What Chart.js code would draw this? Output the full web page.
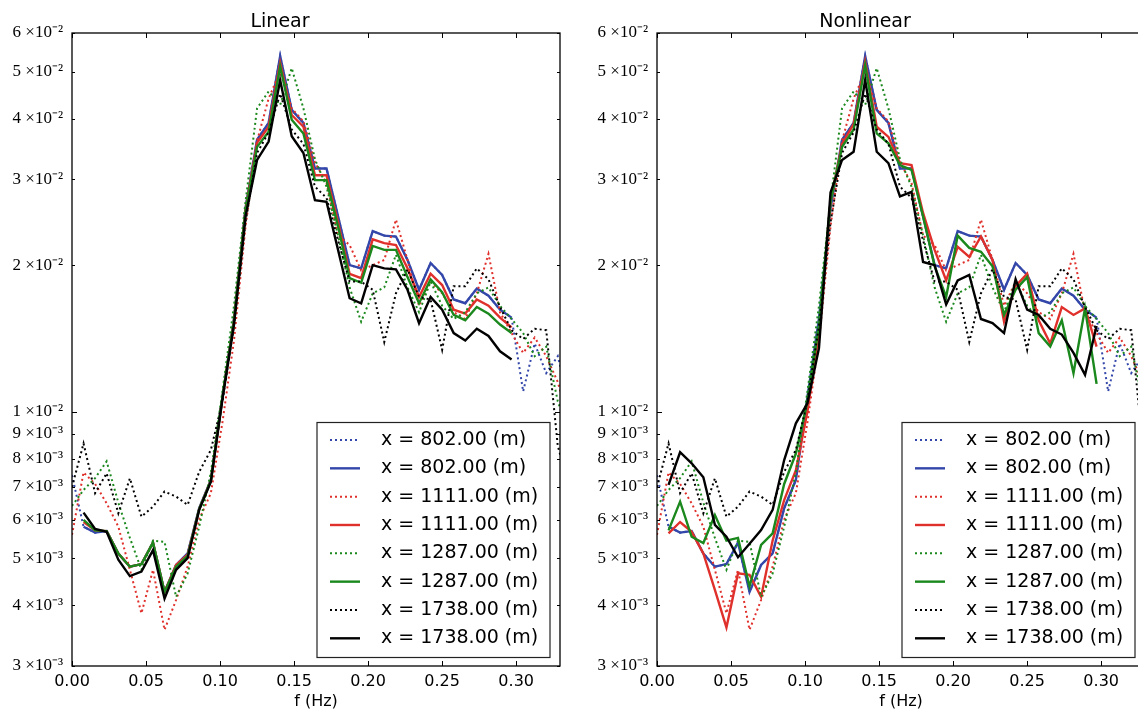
<!DOCTYPE html>
<html><head><meta charset="utf-8">
<script src="https://cdn.jsdelivr.net/npm/chart.js@4.4.0/dist/chart.umd.min.js"></script>
<style>
html,body{margin:0;padding:0;background:#fff;overflow:hidden;width:1138px;height:711px;position:relative;}
.wrap{position:absolute;top:0;width:580px;height:711px;}
#w1{left:0}
#w2{left:585px}
</style></head><body>
<div class="wrap" id="w1"><canvas id="c1" width="580" height="711"></canvas></div>
<div class="wrap" id="w2"><canvas id="c2" width="580" height="711"></canvas></div>
<script>
// frequency grids (Hz)
const freqMeas = [0, 0.0078, 0.0156, 0.0234, 0.0313, 0.0391, 0.0469, 0.0547, 0.0625, 0.0703, 0.0781, 0.0859, 0.0938, 0.1016, 0.1094, 0.1172, 0.1250, 0.1328, 0.1406, 0.1484, 0.1563, 0.1641, 0.1719, 0.1797, 0.1875, 0.1953, 0.2031, 0.2109, 0.2188, 0.2266, 0.2344, 0.2422, 0.2500, 0.2578, 0.2656, 0.2734, 0.2813, 0.2891, 0.2969, 0.3047, 0.3125, 0.3203, 0.3281, 0.3359];
const freqModel = [0.0078, 0.0156, 0.0234, 0.0313, 0.0391, 0.0469, 0.0547, 0.0625, 0.0703, 0.0781, 0.0859, 0.0938, 0.1016, 0.1094, 0.1172, 0.1250, 0.1328, 0.1406, 0.1484, 0.1563, 0.1641, 0.1719, 0.1797, 0.1875, 0.1953, 0.2031, 0.2109, 0.2188, 0.2266, 0.2344, 0.2422, 0.2500, 0.2578, 0.2656, 0.2734, 0.2813, 0.2891, 0.2969];

// measured spectra (dotted), same in both panels
const meas802 = [7.4e-3, 5.8e-3, 5.64e-3, 5.68e-3, 5.11e-3, 4.8e-3, 4.86e-3, 5.38e-3, 4.26e-3, 4.84e-3, 5.11e-3, 6.33e-3, 7.24e-3, 1.07e-2, 1.55e-2, 2.62e-2, 3.62e-2, 3.92e-2, 5.38e-2, 4.17e-2, 3.92e-2, 3.16e-2, 3.16e-2, 2.52e-2, 2.0e-2, 1.97e-2, 2.35e-2, 2.3e-2, 2.29e-2, 2.05e-2, 1.78e-2, 2.02e-2, 1.91e-2, 1.7e-2, 1.67e-2, 1.79e-2, 1.73e-2, 1.62e-2, 1.56e-2, 1.1e-2, 1.38e-2, 1.2e-2, 1.3e-2, 1.05e-2];
const meas1111 = [5.58e-3, 7.5e-3, 7.1e-3, 6.48e-3, 5.8e-3, 4.73e-3, 3.85e-3, 4.73e-3, 3.56e-3, 4.1e-3, 4.8e-3, 6.0e-3, 6.8e-3, 9.5e-3, 1.4e-2, 2.4e-2, 3.6e-2, 4.4e-2, 5.0e-2, 4.2e-2, 3.95e-2, 3.25e-2, 2.95e-2, 2.3e-2, 2.2e-2, 1.95e-2, 2.0e-2, 2.05e-2, 2.48e-2, 2.05e-2, 1.65e-2, 1.85e-2, 1.75e-2, 1.6e-2, 1.55e-2, 1.75e-2, 2.11e-2, 1.6e-2, 1.45e-2, 1.32e-2, 1.42e-2, 1.3e-2, 1.15e-2, 9.5e-3];
const meas1287 = [6.4e-3, 6.9e-3, 7.3e-3, 7.9e-3, 6.5e-3, 5.5e-3, 4.73e-3, 5.43e-3, 5.4e-3, 4.16e-3, 4.65e-3, 5.8e-3, 7.5e-3, 1.1e-2, 1.65e-2, 2.7e-2, 4.2e-2, 4.55e-2, 4.27e-2, 5.08e-2, 4.2e-2, 3.3e-2, 2.9e-2, 2.3e-2, 1.8e-2, 1.53e-2, 1.75e-2, 1.8e-2, 2.1e-2, 1.8e-2, 1.6e-2, 1.85e-2, 1.65e-2, 1.55e-2, 1.6e-2, 1.75e-2, 1.8e-2, 1.65e-2, 1.55e-2, 1.45e-2, 1.3e-2, 1.36e-2, 1.05e-2, 9.0e-3];
const meas1738 = [7.0e-3, 8.6e-3, 6.8e-3, 7.47e-3, 6.18e-3, 7.29e-3, 6.08e-3, 6.38e-3, 6.85e-3, 6.69e-3, 6.43e-3, 7.52e-3, 8.34e-3, 1.05e-2, 1.5e-2, 2.45e-2, 3.4e-2, 3.75e-2, 4.5e-2, 3.8e-2, 3.55e-2, 2.9e-2, 2.75e-2, 2.25e-2, 1.85e-2, 1.85e-2, 1.78e-2, 1.39e-2, 1.75e-2, 1.96e-2, 1.72e-2, 1.7e-2, 1.34e-2, 1.81e-2, 1.81e-2, 1.97e-2, 1.87e-2, 1.64e-2, 1.47e-2, 1.41e-2, 1.48e-2, 1.47e-2, 8.5e-3, 7.0e-3];

// linear model (solid)
const lin802 = [5.8e-3, 5.64e-3, 5.68e-3, 5.11e-3, 4.8e-3, 4.86e-3, 5.38e-3, 4.26e-3, 4.84e-3, 5.11e-3, 6.33e-3, 7.24e-3, 1.07e-2, 1.55e-2, 2.62e-2, 3.62e-2, 3.92e-2, 5.38e-2, 4.17e-2, 3.92e-2, 3.16e-2, 3.16e-2, 2.52e-2, 2.0e-2, 1.97e-2, 2.35e-2, 2.3e-2, 2.29e-2, 2.05e-2, 1.78e-2, 2.02e-2, 1.91e-2, 1.7e-2, 1.67e-2, 1.79e-2, 1.73e-2, 1.62e-2, 1.56e-2];
const lin1111 = [5.93e-3, 5.7e-3, 5.68e-3, 5.11e-3, 4.8e-3, 4.86e-3, 5.38e-3, 4.26e-3, 4.84e-3, 5.08e-3, 6.3e-3, 7.22e-3, 1.07e-2, 1.54e-2, 2.6e-2, 3.57e-2, 3.85e-2, 5.21e-2, 4.07e-2, 3.85e-2, 3.06e-2, 3.06e-2, 2.45e-2, 1.92e-2, 1.88e-2, 2.26e-2, 2.22e-2, 2.2e-2, 1.97e-2, 1.72e-2, 1.92e-2, 1.82e-2, 1.62e-2, 1.59e-2, 1.7e-2, 1.65e-2, 1.56e-2, 1.49e-2];
const lin1287 = [5.99e-3, 5.7e-3, 5.68e-3, 5.11e-3, 4.8e-3, 4.86e-3, 5.38e-3, 4.26e-3, 4.8e-3, 5.05e-3, 6.3e-3, 7.2e-3, 1.07e-2, 1.53e-2, 2.58e-2, 3.5e-2, 3.76e-2, 5.12e-2, 3.98e-2, 3.73e-2, 2.99e-2, 2.99e-2, 2.4e-2, 1.88e-2, 1.84e-2, 2.19e-2, 2.15e-2, 2.15e-2, 1.89e-2, 1.67e-2, 1.87e-2, 1.76e-2, 1.58e-2, 1.54e-2, 1.64e-2, 1.59e-2, 1.51e-2, 1.45e-2];
const lin1738 = [6.2e-3, 5.74e-3, 5.66e-3, 4.96e-3, 4.59e-3, 4.69e-3, 5.19e-3, 4.13e-3, 4.73e-3, 5.0e-3, 6.28e-3, 7.18e-3, 1.06e-2, 1.51e-2, 2.52e-2, 3.29e-2, 3.59e-2, 4.8e-2, 3.68e-2, 3.4e-2, 2.72e-2, 2.7e-2, 2.15e-2, 1.71e-2, 1.67e-2, 2.0e-2, 1.97e-2, 1.96e-2, 1.78e-2, 1.52e-2, 1.72e-2, 1.62e-2, 1.45e-2, 1.4e-2, 1.48e-2, 1.43e-2, 1.33e-2, 1.28e-2];

// nonlinear model (solid)
const nl802 = [5.8e-3, 5.64e-3, 5.68e-3, 5.11e-3, 4.8e-3, 4.86e-3, 5.38e-3, 4.26e-3, 4.84e-3, 5.11e-3, 6.33e-3, 7.24e-3, 1.07e-2, 1.55e-2, 2.62e-2, 3.62e-2, 3.92e-2, 5.38e-2, 4.17e-2, 3.92e-2, 3.16e-2, 3.16e-2, 2.52e-2, 2.0e-2, 1.97e-2, 2.35e-2, 2.3e-2, 2.29e-2, 2.05e-2, 1.78e-2, 2.02e-2, 1.91e-2, 1.7e-2, 1.67e-2, 1.79e-2, 1.73e-2, 1.62e-2, 1.56e-2];
const nl1111 = [5.62e-3, 5.93e-3, 5.66e-3, 5.11e-3, 4.3e-3, 3.6e-3, 4.65e-3, 4.62e-3, 4.16e-3, 5.43e-3, 6.58e-3, 7.58e-3, 1.0e-2, 1.45e-2, 2.7e-2, 3.55e-2, 3.9e-2, 5.24e-2, 3.85e-2, 3.67e-2, 3.24e-2, 3.21e-2, 2.56e-2, 2.15e-2, 1.86e-2, 2.18e-2, 2.08e-2, 2.29e-2, 2.05e-2, 1.53e-2, 1.81e-2, 1.92e-2, 1.54e-2, 1.38e-2, 1.64e-2, 1.58e-2, 1.63e-2, 1.36e-2];
const nl1287 = [5.7e-3, 6.53e-3, 5.53e-3, 5.37e-3, 6.13e-3, 5.43e-3, 5.5e-3, 4.37e-3, 5.32e-3, 5.62e-3, 7.1e-3, 8.2e-3, 1.05e-2, 1.5e-2, 2.7e-2, 3.5e-2, 3.8e-2, 5.15e-2, 3.73e-2, 3.56e-2, 3.21e-2, 3.14e-2, 2.52e-2, 1.99e-2, 1.72e-2, 2.3e-2, 2.17e-2, 2.13e-2, 1.99e-2, 1.58e-2, 1.78e-2, 1.89e-2, 1.45e-2, 1.36e-2, 1.54e-2, 1.2e-2, 1.63e-2, 1.14e-2];
const nl1738 = [7.07e-3, 8.25e-3, 7.83e-3, 7.33e-3, 5.85e-3, 5.53e-3, 5.02e-3, 5.35e-3, 5.71e-3, 6.28e-3, 7.95e-3, 9.46e-3, 1.04e-2, 1.35e-2, 2.82e-2, 3.29e-2, 3.42e-2, 4.8e-2, 3.42e-2, 3.24e-2, 2.77e-2, 2.83e-2, 2.03e-2, 2.0e-2, 1.66e-2, 1.86e-2, 1.91e-2, 1.55e-2, 1.52e-2, 1.45e-2, 1.87e-2, 1.62e-2, 1.58e-2, 1.48e-2, 1.44e-2, 1.32e-2, 1.19e-2, 1.5e-2];

const legendLabels = ['x = 802.00 (m)', 'x = 802.00 (m)', 'x = 1111.00 (m)', 'x = 1111.00 (m)', 'x = 1287.00 (m)', 'x = 1287.00 (m)', 'x = 1738.00 (m)', 'x = 1738.00 (m)'];
const xTicks = [0, 0.05, 0.10, 0.15, 0.20, 0.25, 0.30];
const xTickLabels = ['0.00', '0.05', '0.10', '0.15', '0.20', '0.25', '0.30'];
const yTicks = [0.003, 0.004, 0.005, 0.006, 0.007, 0.008, 0.009, 0.01, 0.02, 0.03, 0.04, 0.05, 0.06];
const yTickLabels = ['3 ×10⁻³', '4 ×10⁻³', '5 ×10⁻³', '6 ×10⁻³', '7 ×10⁻³', '8 ×10⁻³', '9 ×10⁻³', '1 ×10⁻²', '2 ×10⁻²', '3 ×10⁻²', '4 ×10⁻²', '5 ×10⁻²', '6 ×10⁻²'];

const COL = {blue: '#3346a9', red: '#e0302b', green: '#1a881c', black: '#000000'};
const SOLID_W = 2.4, DOT_W = 2;
const DOT = [2, 3];

function pts(fx, vals) { return vals.map((v, i) => ({x: fx[i], y: v})); }
function dsDotted(vals, col) {
  return {data: pts(freqMeas, vals), borderColor: col, borderWidth: DOT_W, borderDash: DOT, pointRadius: 0, fill: false, tension: 0, clip: 0};
}
function dsSolid(vals, col) {
  return {data: pts(freqModel, vals), borderColor: col, borderWidth: SOLID_W, pointRadius: 0, fill: false, tension: 0, clip: 0};
}

const decorPlugin = {
  id: 'decor',
  afterDatasetsDraw(chart) {
    const ctx = chart.ctx, a = chart.chartArea;
    const xs = chart.scales.x, ys = chart.scales.y;
    ctx.save();
    ctx.strokeStyle = '#000';
    ctx.lineWidth = 1;
    ctx.beginPath();
    xTicks.forEach(v => {
      const p = Math.round(xs.getPixelForValue(v)) + 0.5;
      ctx.moveTo(p, a.bottom); ctx.lineTo(p, a.bottom - 5);
      ctx.moveTo(p, a.top); ctx.lineTo(p, a.top + 5);
    });
    yTicks.forEach(v => {
      const p = Math.round(ys.getPixelForValue(v)) + 0.5;
      const len = (v === 0.01) ? 5 : 3;
      ctx.moveTo(a.left, p); ctx.lineTo(a.left + len, p);
      ctx.moveTo(a.right, p); ctx.lineTo(a.right - len, p);
    });
    ctx.stroke();
    ctx.lineWidth = 1.3;
    ctx.strokeRect(a.left, a.top, a.right - a.left, a.bottom - a.top);
    ctx.restore();
  },
  afterDraw(chart) {
    const ctx = chart.ctx, a = chart.chartArea;
    const w = 233, h = 235;
    const x0 = a.right - 10 - w, y0 = a.bottom - 8.5 - h;
    ctx.save();
    ctx.fillStyle = '#fff';
    ctx.fillRect(x0, y0, w, h);
    ctx.strokeStyle = '#222';
    ctx.lineWidth = 1.2;
    ctx.strokeRect(x0, y0, w, h);
    ctx.font = '19px "DejaVu Sans"';
    ctx.textBaseline = 'middle';
    ctx.textAlign = 'left';
    chart.data.datasets.forEach((ds, i) => {
      const y = y0 + 17.5 + i * 28.33;
      ctx.beginPath();
      ctx.strokeStyle = ds.borderColor;
      ctx.lineWidth = ds.borderWidth;
      ctx.setLineDash(ds.borderDash || []);
      ctx.moveTo(x0 + 13, y); ctx.lineTo(x0 + 43, y);
      ctx.stroke();
      ctx.setLineDash([]);
      ctx.fillStyle = '#000';
      ctx.fillText(legendLabels[i], x0 + 64, y);
    });
    ctx.restore();
  }
};

function makeChart(id, title, s802, s1111, s1287, s1738) {
  const datasets = [
    dsDotted(meas802, COL.blue), dsSolid(s802, COL.blue),
    dsDotted(meas1111, COL.red), dsSolid(s1111, COL.red),
    dsDotted(meas1287, COL.green), dsSolid(s1287, COL.green),
    dsDotted(meas1738, COL.black), dsSolid(s1738, COL.black)
  ];
  datasets.forEach((d, i) => { d.order = datasets.length - 1 - i; d.label = legendLabels[i]; });
  return new Chart(document.getElementById(id), {
    type: 'line',
    data: {datasets},
    options: {
      responsive: false, animation: false, devicePixelRatio: 1,
      layout: {padding: {left: 0, right: 20, top: 0, bottom: 0}},
      plugins: {
        legend: {display: false},
        tooltip: {enabled: false},
        title: {display: true, text: title, color: '#000', font: {family: 'DejaVu Sans', size: 19, weight: 'normal', lineHeight: 1.1}, padding: {top: 12, bottom: 0.1}}
      },
      scales: {
        x: {
          type: 'linear', min: 0, max: 0.3296,
          grid: {display: false, drawTicks: false}, border: {display: false},
          afterBuildTicks: s => { s.ticks = xTicks.map(v => ({value: v})); },
          afterFit: s => { s.height = 45; },
          ticks: {autoSkip: false, maxRotation: 0, padding: 6, color: '#000', font: {family: 'DejaVu Sans', size: 16}, callback: (v, i) => xTickLabels[i]},
          title: {display: true, text: 'f (Hz)', color: '#000', font: {family: 'DejaVu Sans', size: 16}, padding: {top: 0, bottom: 0}}
        },
        y: {
          type: 'logarithmic', min: 0.003, max: 0.06,
          grid: {display: false, drawTicks: false}, border: {display: false},
          afterBuildTicks: s => { s.ticks = yTicks.map(v => ({value: v})); },
          afterFit: s => { s.width = 72; },
          ticks: {autoSkip: false, padding: 9, color: '#000', font: {family: 'Liberation Serif', size: 17}, callback: (v, i) => yTickLabels[i]}
        }
      }
    },
    plugins: [decorPlugin]
  });
}

makeChart('c1', 'Linear', lin802, lin1111, lin1287, lin1738);
makeChart('c2', 'Nonlinear', nl802, nl1111, nl1287, nl1738);
</script>
</body></html>
